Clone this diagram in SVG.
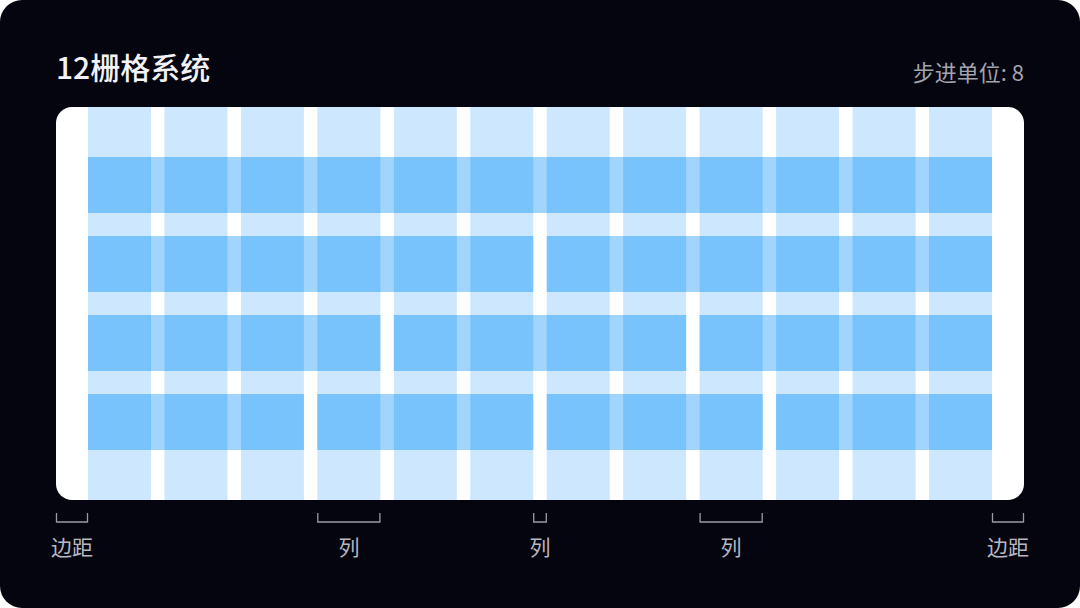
<svg xmlns="http://www.w3.org/2000/svg" xmlns:xlink="http://www.w3.org/1999/xlink" width="1080" height="608" viewBox="0 0 1080 608">
  <style>
    .title { font-family: "Noto Sans CJK SC", "Liberation Sans", sans-serif; font-size: 30px; font-weight: 500; fill: #f2f2f7; }
    .step { font-family: "Noto Sans CJK SC", "Liberation Sans", sans-serif; font-size: 22px; fill: #a3a3ae; }
    .lbl { font-family: "Noto Sans CJK SC", "Liberation Sans", sans-serif; font-size: 21px; fill: #b8b8c2; text-anchor: middle; }
    .col { fill: #cde7fe; }
    .bar { fill: #a2d5fe; }
    .bracket { fill: none; stroke: #9a9aa6; stroke-width: 1.3; }
  </style>
  <defs>
    <g id="cols">
      <rect x="88" y="107" width="63" height="393"/>
      <rect x="164.45" y="107" width="63" height="393"/>
      <rect x="240.91" y="107" width="63" height="393"/>
      <rect x="317.36" y="107" width="63" height="393"/>
      <rect x="393.82" y="107" width="63" height="393"/>
      <rect x="470.27" y="107" width="63" height="393"/>
      <rect x="546.73" y="107" width="63" height="393"/>
      <rect x="623.18" y="107" width="63" height="393"/>
      <rect x="699.64" y="107" width="63" height="393"/>
      <rect x="776.09" y="107" width="63" height="393"/>
      <rect x="852.55" y="107" width="63" height="393"/>
      <rect x="929" y="107" width="63" height="393"/>
    </g>
    <clipPath id="barClip">
      <rect x="88" y="157" width="904" height="56"/>
      <rect x="88" y="236" width="445.27" height="56"/>
      <rect x="546.73" y="236" width="445.27" height="56"/>
      <rect x="88" y="315" width="292.36" height="56"/>
      <rect x="393.82" y="315" width="292.36" height="56"/>
      <rect x="699.64" y="315" width="292.36" height="56"/>
      <rect x="88" y="394" width="215.91" height="56"/>
      <rect x="317.36" y="394" width="215.91" height="56"/>
      <rect x="546.73" y="394" width="215.91" height="56"/>
      <rect x="776.09" y="394" width="215.91" height="56"/>
    </clipPath>
  </defs>

  <rect x="0" y="0" width="1080" height="608" fill="#ffffff"/>
  <rect id="background" x="0" y="0" width="1080" height="608" rx="22" fill="#05050f"/>

  <g id="header">
    <text class="title" x="56" y="79">12栅格系统</text>
    <text class="step" x="1024" y="81" text-anchor="end">步进单位: 8</text>
  </g>

  <g id="grid">
    <rect x="56" y="107" width="968" height="393" rx="16" fill="#ffffff"/>
    <use xlink:href="#cols" class="col"/>
    <g id="bars" class="bar">
      <rect x="88" y="157" width="904" height="56"/>
      <rect x="88" y="236" width="445.27" height="56"/>
      <rect x="546.73" y="236" width="445.27" height="56"/>
      <rect x="88" y="315" width="292.36" height="56"/>
      <rect x="393.82" y="315" width="292.36" height="56"/>
      <rect x="699.64" y="315" width="292.36" height="56"/>
      <rect x="88" y="394" width="215.91" height="56"/>
      <rect x="317.36" y="394" width="215.91" height="56"/>
      <rect x="546.73" y="394" width="215.91" height="56"/>
      <rect x="776.09" y="394" width="215.91" height="56"/>
    </g>
    <g clip-path="url(#barClip)">
      <use xlink:href="#cols" fill="#79c3fd"/>
    </g>
  </g>

  <g id="annotations">
    <path class="bracket" d="M56.5 513 V522 H87.5 V513"/>
    <path class="bracket" d="M317.8 513 V522 H379.9 V513"/>
    <path class="bracket" d="M533.7 513 V522 H546.3 V513"/>
    <path class="bracket" d="M700.1 513 V522 H762.2 V513"/>
    <path class="bracket" d="M992.5 513 V522 H1023.5 V513"/>
    <text class="lbl" x="72" y="555">边距</text>
    <text class="lbl" x="348.9" y="555">列</text>
    <text class="lbl" x="540" y="555">列</text>
    <text class="lbl" x="731.1" y="555">列</text>
    <text class="lbl" x="1008" y="555">边距</text>
  </g>
</svg>
